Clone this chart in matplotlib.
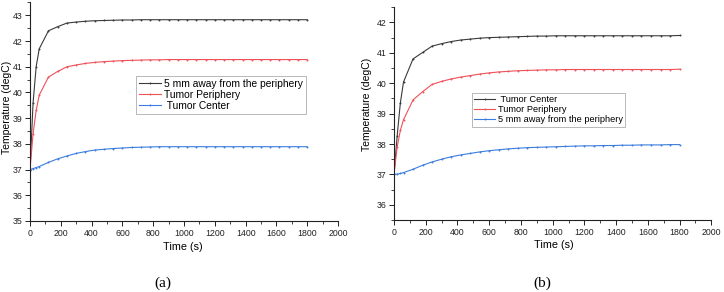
import matplotlib
matplotlib.use("Agg")
import matplotlib.pyplot as plt
from matplotlib.ticker import MultipleLocator

plt.rcParams['font.family'] = ['Liberation Sans', 'DejaVu Sans']

time_s = [0, 20, 40, 60, 120, 180, 240, 300, 360, 420, 480, 540, 600, 660, 720,
          780, 840, 900, 960, 1020, 1080, 1140, 1200, 1260, 1320, 1380, 1440,
          1500, 1560, 1620, 1680, 1740, 1800]

# Panel (a)
a_black = [37.0, 39.6, 41.0, 41.7, 42.4, 42.56, 42.7, 42.74, 42.77, 42.79, 42.8,
           42.81, 42.82, 42.82, 42.83, 42.83, 42.83, 42.83, 42.83, 42.83, 42.83,
           42.83, 42.83, 42.83, 42.83, 42.83, 42.83, 42.83, 42.83, 42.83, 42.83,
           42.83, 42.83]
a_red = [37.0, 38.4, 39.3, 39.9, 40.6, 40.82, 41.0, 41.07, 41.13, 41.17, 41.2,
         41.22, 41.24, 41.25, 41.26, 41.27, 41.27, 41.28, 41.28, 41.28, 41.28,
         41.28, 41.28, 41.28, 41.28, 41.28, 41.28, 41.28, 41.28, 41.28, 41.28,
         41.28, 41.28]
a_blue = [37.0, 37.04, 37.08, 37.12, 37.28, 37.42, 37.53, 37.63, 37.7, 37.76,
          37.79, 37.82, 37.84, 37.86, 37.87, 37.88, 37.89, 37.89, 37.89, 37.89,
          37.89, 37.89, 37.89, 37.89, 37.89, 37.89, 37.89, 37.89, 37.89, 37.89,
          37.89, 37.89, 37.89]
a_labels = ["5 mm away from the periphery", "Tumor Periphery", " Tumor Center"]

# Panel (b)
b_black = [37.0, 38.27, 39.35, 40.04, 40.8, 41.01, 41.22, 41.3, 41.37, 41.42,
           41.45, 41.48, 41.5, 41.51, 41.52, 41.53, 41.54, 41.55, 41.55, 41.56,
           41.56, 41.56, 41.56, 41.56, 41.56, 41.56, 41.56, 41.56, 41.56, 41.56,
           41.56, 41.56, 41.57]
b_red = [37.0, 37.9, 38.45, 38.8, 39.45, 39.72, 39.96, 40.06, 40.14, 40.2, 40.25,
         40.3, 40.34, 40.37, 40.39, 40.41, 40.42, 40.43, 40.44, 40.44, 40.45,
         40.45, 40.45, 40.45, 40.45, 40.45, 40.45, 40.45, 40.45, 40.45, 40.45,
         40.45, 40.46]
b_blue = [37.0, 37.01, 37.03, 37.06, 37.17, 37.3, 37.41, 37.5, 37.58, 37.64,
          37.69, 37.74, 37.78, 37.81, 37.84, 37.86, 37.88, 37.89, 37.9, 37.91,
          37.92, 37.93, 37.94, 37.94, 37.95, 37.95, 37.96, 37.96, 37.97, 37.97,
          37.97, 37.98, 37.98]
b_labels = [" Tumor Center", "Tumor Periphery", "5 mm away from the periphery"]

colors = ["#3a3a3a", "#f0505a", "#3b7ddd"]

W, H = 724, 292
fig = plt.figure(figsize=(W / 100, H / 100), dpi=100)


def px_axes(l, t, r, b):
    return fig.add_axes([l / W, 1 - b / H, (r - l) / W, (b - t) / H])


def style(ax, ylim, ymaj):
    ax.set_xlim(0, 2000)
    ax.set_ylim(*ylim)
    ax.xaxis.set_major_locator(MultipleLocator(200))
    ax.xaxis.set_minor_locator(MultipleLocator(100))
    ax.yaxis.set_major_locator(MultipleLocator(ymaj))
    ax.yaxis.set_minor_locator(MultipleLocator(0.5))
    for s in ["top", "right"]:
        ax.spines[s].set_visible(False)
    for s in ["left", "bottom"]:
        ax.spines[s].set_linewidth(0.8)
        ax.spines[s].set_color("#222222")
    ax.tick_params(which="major", direction="out", length=3.5, width=0.7,
                   labelsize=6.3, pad=2, colors="#222222")
    ax.tick_params(which="minor", direction="out", length=2, width=0.6,
                   colors="#222222")
    ax.set_xlabel("Time (s)", fontsize=7.8)
    ax.set_ylabel("Temperature (degC)", fontsize=7.5)


def draw(ax, series, labels, leg_box, fs):
    for ys, c, lab in zip(series, colors, labels):
        ax.plot(time_s, ys, color=c, lw=0.8, marker="o", ms=1.4,
                markeredgewidth=0, label=lab)
    l, t = leg_box
    leg = ax.legend(loc="upper left", bbox_to_anchor=(l / W, 1 - t / H),
                    bbox_transform=fig.transFigure, borderaxespad=0,
                    fontsize=fs, frameon=True, fancybox=False,
                    handlelength=2.2, handletextpad=0.3, labelspacing=0.12,
                    borderpad=0.25)
    leg.get_frame().set_edgecolor("#999999")
    leg.get_frame().set_linewidth(0.6)


# (a)
ax1 = px_axes(30, 2.5, 338, 221)
style(ax1, (35, 43.5), 1)
draw(ax1, [a_black, a_red, a_blue], a_labels, (136, 76), 7.4)
ax1.xaxis.set_label_coords(0.497, -0.096)
ax1.yaxis.set_label_coords(-0.057, 0.52)

# (b)
ax2 = px_axes(394, 7.2, 711.3, 220)
style(ax2, (35.5, 42.5), 1)
draw(ax2, [b_black, b_red, b_blue], b_labels, (472, 92.7), 6.7)
ax2.xaxis.set_label_coords(0.503, -0.094)
ax2.yaxis.set_label_coords(-0.068, 0.545)

fig.text(163 / W, 1 - 283 / H, "(a)", ha="center", va="center",
         family="Liberation Serif", fontsize=11)
fig.text(542 / W, 1 - 283 / H, "(b)", ha="center", va="center",
         family="Liberation Serif", fontsize=11)

fig.savefig("out.png", dpi=100)
